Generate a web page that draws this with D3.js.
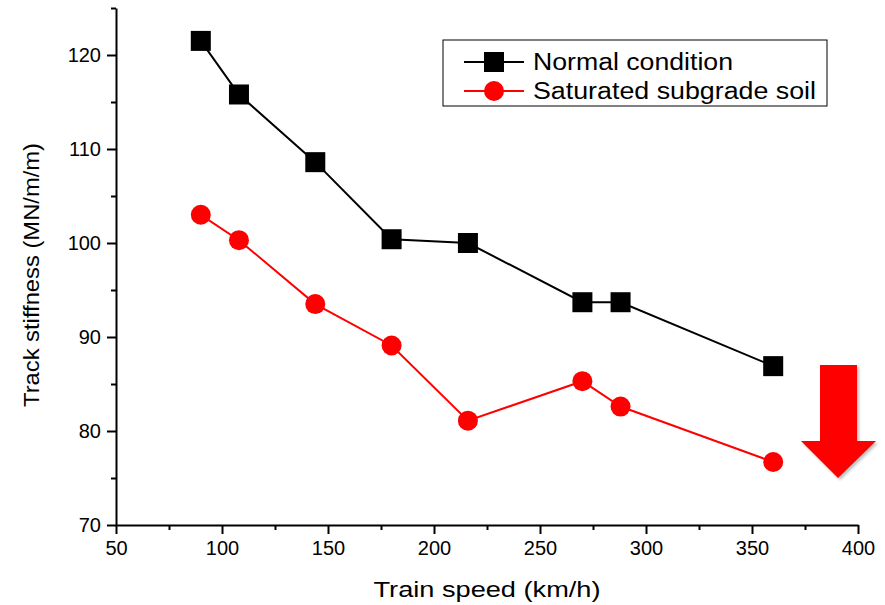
<!DOCTYPE html>
<html>
<head>
<meta charset="utf-8">
<script src="https://cdn.jsdelivr.net/npm/d3@7"></script>
<style>
  body { margin: 0; background: #fff; }
  text { font-family: "Liberation Sans", Arial, sans-serif; fill: #000; }
</style>
</head>
<body>
<div id="chart"></div>
<script>
// data
var speeds = [90, 108, 144, 180, 216, 270, 288, 360];
var normalStiff = [121.5, 115.8, 108.6, 100.4, 100.0, 93.7, 93.7, 86.9];
var saturatedStiff = [103.0, 100.3, 93.5, 89.1, 81.1, 85.3, 82.6, 76.7];
var xTicks = [50, 100, 150, 200, 250, 300, 350, 400];
var yTicks = [70, 80, 90, 100, 110, 120];
var seriesNames = ["Normal condition", "Saturated subgrade soil"];

var width = 885, height = 605;
var margin = { top: 8, right: 27, bottom: 80, left: 116 };

var x = d3.scaleLinear().domain([50, 400]).range([margin.left, width - margin.right]);
var y = d3.scaleLinear().domain([70, 125]).range([height - margin.bottom, margin.top]);

var svg = d3.select("#chart").append("svg")
    .attr("width", width)
    .attr("height", height);

// minor ticks
svg.append("g")
    .attr("transform", "translate(0," + y(70) + ")")
    .call(d3.axisBottom(x).tickValues(d3.range(75, 400, 50)).tickSize(5).tickFormat(""))
    .call(function (g) { g.select(".domain").remove(); })
    .selectAll("line").attr("stroke-width", 2);

svg.append("g")
    .attr("transform", "translate(" + x(50) + ",0)")
    .call(d3.axisLeft(y).tickValues(d3.range(75, 126, 10)).tickSize(5).tickFormat(""))
    .call(function (g) { g.select(".domain").remove(); })
    .selectAll("line").attr("stroke-width", 2);

// X axis
var xAxis = svg.append("g")
    .attr("transform", "translate(0," + y(70) + ")")
    .call(d3.axisBottom(x).tickValues(xTicks).tickSize(9).tickSizeOuter(0).tickPadding(7));
xAxis.select(".domain").attr("stroke-width", 2);
xAxis.selectAll("line").attr("stroke-width", 2);
xAxis.selectAll("text").style("font-size", "20px");

// Y axis
var yAxis = svg.append("g")
    .attr("transform", "translate(" + x(50) + ",0)")
    .call(d3.axisLeft(y).tickValues(yTicks).tickSize(9).tickSizeOuter(0).tickPadding(6));
yAxis.select(".domain").attr("stroke-width", 2);
yAxis.selectAll("line").attr("stroke-width", 2);
yAxis.selectAll("text").style("font-size", "20px");

// axis titles
svg.append("text")
    .attr("x", 487)
    .attr("y", 597)
    .style("text-anchor", "middle")
    .style("font-size", "22px")
    .attr("textLength", 227)
    .attr("lengthAdjust", "spacingAndGlyphs")
    .text("Train speed (km/h)");

svg.append("text")
    .attr("transform", "rotate(-90)")
    .attr("x", -275)
    .attr("y", 39)
    .style("text-anchor", "middle")
    .style("font-size", "22px")
    .attr("textLength", 264)
    .attr("lengthAdjust", "spacingAndGlyphs")
    .text("Track stiffness (MN/m/m)");

var line = d3.line()
    .x(function (d) { return x(d[0]); })
    .y(function (d) { return y(d[1]); });

var normal = speeds.map(function (s, i) { return [s, normalStiff[i]]; });
var saturated = speeds.map(function (s, i) { return [s, saturatedStiff[i]]; });

// saturated series
svg.append("path")
    .datum(saturated)
    .attr("fill", "none")
    .attr("stroke", "#ff0000")
    .attr("stroke-width", 2)
    .attr("d", line);

svg.selectAll(".satDot")
    .data(saturated)
    .enter().append("circle")
    .attr("class", "satDot")
    .attr("cx", function (d) { return x(d[0]); })
    .attr("cy", function (d) { return y(d[1]); })
    .attr("r", 10)
    .attr("fill", "#ff0000");

// normal series
svg.append("path")
    .datum(normal)
    .attr("fill", "none")
    .attr("stroke", "#000")
    .attr("stroke-width", 2)
    .attr("d", line);

svg.selectAll(".normDot")
    .data(normal)
    .enter().append("rect")
    .attr("class", "normDot")
    .attr("x", function (d) { return x(d[0]) - 10; })
    .attr("y", function (d) { return y(d[1]) - 10; })
    .attr("width", 20)
    .attr("height", 20)
    .attr("fill", "#000");

// legend
var legend = svg.append("g").attr("transform", "translate(443,40)");
legend.append("rect")
    .attr("width", 384)
    .attr("height", 66)
    .attr("fill", "#fff")
    .attr("stroke", "#000")
    .attr("stroke-width", 1);

var colors = ["#000", "#ff0000"];
var legendWidths = [200, 283];
seriesNames.forEach(function (name, i) {
    var ly = 22 + i * 29;
    legend.append("line")
        .attr("x1", 21).attr("x2", 81)
        .attr("y1", ly).attr("y2", ly)
        .attr("stroke", colors[i])
        .attr("stroke-width", 2);
    if (i === 0) {
        legend.append("rect")
            .attr("x", 41).attr("y", ly - 10)
            .attr("width", 20).attr("height", 20)
            .attr("fill", colors[i]);
    } else {
        legend.append("circle")
            .attr("cx", 51).attr("cy", ly)
            .attr("r", 10)
            .attr("fill", colors[i]);
    }
    legend.append("text")
        .attr("x", 90)
        .attr("y", ly)
        .attr("dy", "0.36em")
        .style("font-size", "23px")
        .attr("textLength", legendWidths[i])
        .attr("lengthAdjust", "spacingAndGlyphs")
        .text(name);
});

// red downward arrow
var arrow = svg.append("g");
arrow.append("path")
    .attr("d", "M820,365 L857,365 L857,441 L876,441 L838,478 L801,441 L820,441 Z")
    .attr("fill", "#bbb")
    .attr("transform", "translate(2,2)")
    .style("filter", "blur(1.5px)");
arrow.append("path")
    .attr("d", "M820,365 L857,365 L857,441 L876,441 L838,478 L801,441 L820,441 Z")
    .attr("fill", "#ff0000");
</script>
</body>
</html>
